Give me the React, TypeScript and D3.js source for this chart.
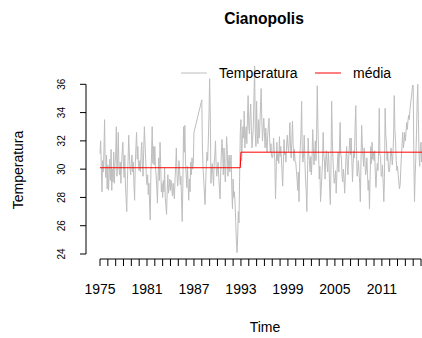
import React from 'react';
import * as d3 from 'd3';

// monthly series, one row per year, starting Jan 1975 (null = missing month)
const inicio = 1975;
const freq = 12;
const temperatura: (number | null)[][] = [
  [31.1, 32.0, 30.2, 28.4, 30.6, 29.8, 31.2, 33.5, 30.1, 29.4, 31.0, 28.6],
  [30.3, 28.5, 29.6, 30.7, 29.2, 31.4, 28.5, 30.0, 29.1, 31.2, 29.0, 30.4],
  [31.0, 33.0, 29.5, 30.8, 32.6, 30.1, 29.6, 30.5, 29.0, 30.3, 31.2, 31.9],
  [30.2, 29.4, 31.0, 28.8, 27.9, 27.0, 29.3, 30.6, 32.4, 31.0, 30.1, 29.6],
  [30.4, 31.0, 29.8, 30.5, 28.9, 27.8, 30.2, 31.5, 32.6, 30.7, 31.6, 30.2],
  [29.9, 30.6, 29.8, 31.2, 31.9, 30.3, 29.5, 31.4, 33.0, 31.8, 30.7, 29.5],
  [28.9, 29.6, 28.2, 29.0, 27.5, 26.4, 29.8, 31.0, 33.0, 30.4, 31.6, 30.3],
  [31.6, 30.0, 29.6, 28.7, 27.6, 29.5, 30.8, 29.2, 31.9, 30.4, 28.4, 29.0],
  [28.0, 29.2, 28.4, 30.1, 28.0, 27.4, 26.8, 28.5, 29.6, 28.3, 28.7, 29.3],
  [28.5, 29.2, 28.7, 28.1, 29.0, 28.4, 27.9, 29.3, 30.2, 31.5, 29.6, 28.8],
  [29.4, 30.6, 30.0, 28.9, 29.5, 27.8, 26.3, 29.0, 33.0, 31.2, 33.1, 30.5],
  [29.6, 28.7, 30.2, 29.0, 27.8, 29.3, 28.4, 30.5, 29.6, 30.8, 30.0, 30.4],
  [32.6, null, null, null, null, null, null, null, null, null, null, null],
  [34.9, 31.5, 30.0, 29.2, 28.3, 27.5, 29.0, 30.4, 31.2, 30.6, 32.0, 33.8],
  [36.4, 33.9, 29.0, 30.0, 30.4, 29.6, 28.8, 30.5, 31.0, 32.0, 30.2, 29.5],
  [30.1, 30.5, 29.4, 28.6, 27.9, 29.8, 31.2, 32.1, 31.0, 29.6, 31.5, 30.4],
  [29.1, 30.3, 32.3, 31.4, 29.5, 30.5, 31.0, 29.8, 30.6, 31.0, 28.6, 27.2],
  [29.3, 28.0, 28.4, 27.6, 26.3, 24.9, 24.1, 25.2, 27.0, 26.2, 29.5, 32.6],
  [33.5, 30.6, 31.8, 33.0, 32.2, 34.1, 31.5, 32.4, 33.0, 31.8, 33.6, 35.2],
  [33.0, 32.5, 33.8, 34.6, 32.7, 31.5, 32.2, 33.1, 35.2, 37.3, 32.5, 31.6],
  [34.8, 32.5, 31.8, 33.5, 32.2, 33.0, 34.5, 35.7, 33.4, 32.0, 32.8, 33.6],
  [32.6, 31.5, 32.9, 31.9, 31.2, 32.4, 33.0, 33.6, 32.1, 31.2, 31.8, 30.9],
  [30.8, 31.0, 32.2, 31.4, 30.5, 27.9, 29.8, 31.9, 30.6, 31.1, 30.4, 32.3],
  [30.9, 31.6, 30.8, 29.7, 28.8, 30.4, 32.1, 31.0, 31.2, 30.5, 31.7, 32.4],
  [31.6, 31.2, 32.0, 33.3, 31.5, 30.8, 32.0, 33.4, 31.8, 30.6, 31.4, 30.5],
  [30.5, 29.9, 29.3, 28.5, 29.8, 27.7, 30.2, 31.6, 32.5, 34.8, 31.2, 30.5],
  [31.0, 32.4, 30.6, 29.3, 28.5, 27.0, 29.6, 32.2, 31.0, 30.6, 29.8, 30.9],
  [29.6, 30.8, 32.8, 31.5, 30.3, 31.1, 32.0, 30.6, 32.5, 35.9, 33.0, 31.2],
  [29.3, 30.2, 27.7, 28.6, 29.5, 30.4, 32.6, 31.0, 30.5, 29.3, 30.8, 31.3],
  [30.3, 29.8, 31.2, 30.4, 28.6, 27.5, 30.0, 34.8, 32.3, 30.8, 29.7, 29.0],
  [29.4, 29.9, 28.3, 29.6, 30.5, 31.2, 29.8, 31.5, 33.3, 31.0, 30.8, 29.5],
  [29.1, 30.0, 29.4, 28.3, 29.5, 30.8, 31.6, 30.2, 29.6, 30.7, 31.5, 32.2],
  [31.0, 32.2, 30.6, 29.1, 30.4, 31.3, 30.8, 33.0, 34.5, 31.6, 29.5, 29.8],
  [30.6, 29.8, 29.0, 27.7, 30.5, 33.1, 31.8, 31.0, 30.2, 31.5, 30.6, 29.6],
  [29.9, 30.8, 29.6, 28.5, 29.2, 27.2, 29.5, 31.6, 30.4, 31.9, 30.7, 31.2],
  [30.6, 31.3, 29.6, 28.7, 29.8, 30.4, 29.9, 31.2, 34.3, 31.0, 30.9, 29.5],
  [29.5, 30.3, 29.0, 27.7, 29.4, 34.3, 32.4, 31.9, 30.6, 31.2, 30.1, 29.8],
  [30.0, 30.8, 31.5, 30.9, 30.3, 31.1, 32.4, 35.2, 32.8, 31.9, 30.6, 29.9],
  [30.2, 29.6, 29.1, 28.6, 28.9, 30.0, 31.0, 31.8, 32.6, 31.5, 31.9, 32.6],
  [32.0, 32.6, 33.3, 32.8, 33.4, 33.8, 33.5, 34.2, 34.6, 35.0, 35.4, 35.95],
  [35.9, 30.8, 27.7, 29.5, 30.8, 32.4, 34.6, 36.0, 33.5, 31.0, 30.2, 31.5],
  [31.9, 30.5, 31.8, 30.9, 31.6, 32.0, 30.8, 31.4, 31.0, 32.2, 30.7, 31.5],
];

// mean of each period
const mediaInicio = [1975, 1993];
const mediaValores = [30.1, 31.2];

const xTicks = d3.range(1975, 2017);
const xLabels = d3.range(1975, 2012, 6);
const yTicks = [24, 26, 28, 30, 32, 34, 36];

const W = 422;
const H = 338;
const font = '"Liberation Sans", Arial, Helvetica, sans-serif';

const App = () => {
  const x = d3.scaleLinear().domain([1973.21, 2018.68]).range([86, 442]);
  const y = d3.scaleLinear().domain([24, 36]).range([254, 84.3]);
  const bottom = 259;

  const pts = temperatura
    .flat()
    .map((v, i) => ({ t: inicio + i / freq, v }))
    .filter((d) => d.v !== null) as { t: number; v: number }[];
  const tEnd = inicio + (temperatura.length * freq - 1) / freq;

  const mediaPts: [number, number][] = [];
  mediaInicio.forEach((s, k) => {
    const e = k < mediaInicio.length - 1 ? mediaInicio[k + 1] - 1 / freq : tEnd;
    mediaPts.push([s, mediaValores[k]], [e, mediaValores[k]]);
  });

  const line = d3
    .line<{ t: number; v: number }>()
    .x((d) => x(d.t))
    .y((d) => y(d.v));
  const mline = d3
    .line<[number, number]>()
    .x((d) => x(d[0]))
    .y((d) => y(d[1]));

  return (
    <svg
      width={W}
      height={H}
      style={{ position: 'absolute', left: 0, top: 0, background: '#fff' }}
      fontFamily={font}
    >
      <rect width={W} height={H} fill="#fff" />
      <text x={264} y={24} textAnchor="middle" fontSize={15.6} fontWeight="bold">
        Cianopolis
      </text>

      <path d={line(pts) || ''} fill="none" stroke="#bebebe" strokeWidth={1} />
      <path d={mline(mediaPts) || ''} fill="none" stroke="#ff0000" strokeWidth={1} />

      {/* y axis */}
      <line x1={86} x2={86} y1={y(24)} y2={y(36)} stroke="#000" />
      {yTicks.map((t) => (
        <g key={t}>
          <line x1={80} x2={86} y1={y(t)} y2={y(t)} stroke="#000" />
          <text
            transform={`translate(65,${y(t)}) rotate(-90)`}
            textAnchor="middle"
            fontSize={10}
          >
            {t}
          </text>
        </g>
      ))}
      <text transform={`translate(23,170) rotate(-90)`} textAnchor="middle" fontSize={14}>
        Temperatura
      </text>

      {/* x axis */}
      <line x1={x(xTicks[0])} x2={x(xTicks[xTicks.length - 1])} y1={bottom} y2={bottom} stroke="#000" />
      {xTicks.map((t) => (
        <line key={t} x1={x(t)} x2={x(t)} y1={bottom} y2={bottom + 7} stroke="#000" />
      ))}
      {xLabels.map((t) => (
        <text key={t} x={x(t)} y={294} textAnchor="middle" fontSize={14}>
          {t}
        </text>
      ))}
      <text x={265} y={332} textAnchor="middle" fontSize={14}>
        Time
      </text>

      {/* legend */}
      <line x1={181} x2={207} y1={73} y2={73} stroke="#bebebe" />
      <text x={219} y={78} fontSize={14}>Temperatura</text>
      <line x1={315} x2={341} y1={73} y2={73} stroke="#ff0000" />
      <text x={353} y={78} fontSize={14}>média</text>
    </svg>
  );
};

export default App;
